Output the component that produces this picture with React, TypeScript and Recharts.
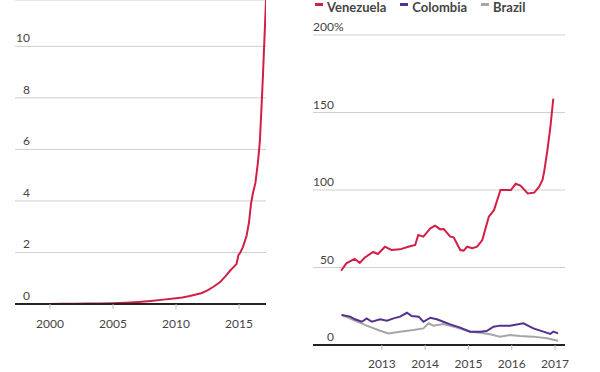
import * as React from "react";
import { CartesianGrid, Line, LineChart, XAxis, YAxis } from "recharts";

// left panel: long-run inflation
const longYears = [
  1999, 2000, 2001, 2002, 2003, 2004, 2005, 2006, 2007, 2008, 2009, 2010, 2010.5, 2011, 2011.5,
  2012, 2012.5, 2013, 2013.5, 2014, 2014.3, 2014.6, 2014.8, 2014.95, 2015.1, 2015.3, 2015.6,
  2015.8, 2015.95, 2016.1, 2016.3, 2016.5, 2016.65, 2016.8, 2016.9, 2017.0, 2017.1, 2017.2,
];
const longValues = [
  0.0, 0.0, 0.005, 0.01, 0.015, 0.02, 0.03, 0.05, 0.08, 0.12, 0.17, 0.22, 0.25, 0.3, 0.36,
  0.42, 0.53, 0.68, 0.85, 1.12, 1.3, 1.45, 1.55, 1.9, 2.0, 2.2, 2.65,
  3.2, 3.9, 4.3, 4.7, 5.5, 6.3, 7.8, 8.9, 10.1, 11.3, 12.5,
];
const longYTicks = [0, 2, 4, 6, 8, 10];
const longXTicks = [2000, 2005, 2010, 2015];

// right panel: recent inflation, three countries
const venezuelaDates = [
  2012.06, 2012.18, 2012.37, 2012.49, 2012.6, 2012.8, 2012.91, 2013.07, 2013.22, 2013.42,
  2013.61, 2013.77, 2013.84, 2013.96, 2014.12, 2014.23, 2014.35, 2014.43, 2014.58, 2014.66,
  2014.81, 2014.89, 2014.97, 2015.09, 2015.2, 2015.32, 2015.47, 2015.59, 2015.74, 2015.98,
  2016.09, 2016.2, 2016.37, 2016.52, 2016.63, 2016.71, 2016.75, 2016.82, 2016.89, 2016.96,
];
const venezuelaValues = [
  47.9, 52.7, 55.5, 53, 56.3, 60, 58.7, 63.4, 61.3, 61.7,
  63.4, 64.5, 71, 69.9, 75.3, 77, 74.6, 74.8, 69.9, 69.5,
  61.3, 60.9, 63.4, 62.4, 63.4, 67.7, 82.8, 87, 100, 100,
  104, 102.8, 97.8, 98.3, 102, 106.5, 112, 125, 140, 159,
];

const colombiaDates = [
  2012.07, 2012.27, 2012.38, 2012.54, 2012.65, 2012.77, 2012.96, 2013.12, 2013.27, 2013.42,
  2013.58, 2013.69, 2013.85, 2013.96, 2014.12, 2014.27, 2014.42, 2014.58, 2014.81, 2015.04,
  2015.27, 2015.42, 2015.58, 2015.73, 2015.96, 2016.27, 2016.5, 2016.73, 2016.89, 2016.96,
  2017.07,
];
const colombiaValues = [
  19.4, 18.3, 16.6, 15, 17.2, 15, 16.6, 15.7, 17.2, 18.3,
  20.8, 18.7, 18.3, 15, 17.6, 16.6, 15, 13.3, 11.2, 8.6,
  8.6, 9, 11.8, 12.5, 12.5, 14, 10.7, 8.6, 7.1, 8.6,
  7.5,
];

const brazilDates = [
  2012.07, 2012.35, 2012.65, 2012.96, 2013.15, 2013.42, 2013.73, 2013.96, 2014.08, 2014.19,
  2014.42, 2014.73, 2015.04, 2015.27, 2015.5, 2015.73, 2015.96, 2016.19, 2016.5, 2016.81,
  2017.07,
];
const brazilValues = [
  19.4, 16.1, 12.5, 9.2, 7.5, 8.6, 9.7, 10.7, 14, 12.5,
  13.5, 11.2, 8.6, 7.9, 6.9, 5.4, 6.5, 5.8, 5.4, 4.3,
  2.8,
];

const recentYTicks = [0, 50, 100, 150, 200];
const recentXTicks = [2013, 2014, 2015, 2016, 2017];

const SERIES = [
  { key: "Venezuela", color: "#d21f45", dates: venezuelaDates, values: venezuelaValues },
  { key: "Colombia", color: "#56308f", dates: colombiaDates, values: colombiaValues },
  { key: "Brazil", color: "#a6a6a6", dates: brazilDates, values: brazilValues },
];

const FONT = "Lato, 'Open Sans', sans-serif";

function toRows(xs: number[], ys: number[]) {
  return xs.map((t, i) => ({ t, v: ys[i] }));
}

function makeYTick(labelX: number, pctTop?: number) {
  return (props: any) => {
    const { y, payload } = props;
    return (
      <g>
        <text x={labelX} y={y - 4} textAnchor="end" fontSize={12} fill="#444" fontFamily={FONT}>
          {payload.value}
        </text>
        {pctTop === payload.value ? (
          <text x={labelX} y={y - 4} textAnchor="start" fontSize={12} fill="#444" fontFamily={FONT}>
            %
          </text>
        ) : null}
      </g>
    );
  };
}

export default function App() {
  const longRows = toRows(longYears, longValues);

  return (
    <div style={{ position: "absolute", left: 0, top: 0, width: 600, height: 372, background: "#fff", overflow: "hidden" }}>
      <div style={{ position: "absolute", left: 0, top: 0 }}>
        <LineChart width={300} height={372} data={longRows} margin={{ top: 0, right: 34, left: 0, bottom: 38 }}>
          <CartesianGrid vertical={false} stroke="#cfcfcf" />
          <XAxis
            dataKey="t"
            type="number"
            domain={[1997.22, 2017.14]}
            ticks={longXTicks}
            allowDataOverflow
            height={30}
            axisLine={{ stroke: "#222", strokeWidth: 2 }}
            tickLine={{ stroke: "#bbb" }}
            tickSize={5}
            tickMargin={10}
            tick={{ fontSize: 12, fill: "#444", fontFamily: FONT }}
          />
          <YAxis
            type="number"
            domain={[0, 11.8]}
            ticks={longYTicks}
            allowDataOverflow
            width={15}
            axisLine={false}
            tickLine={false}
            tick={makeYTick(30)}
          />
          <Line
            dataKey="v"
            type="linear"
            stroke="#d21f45"
            strokeWidth={2}
            dot={false}
            isAnimationActive={false}
          />
        </LineChart>
      </div>

      <div style={{ position: "absolute", left: 300, top: 0 }}>
        <LineChart width={300} height={372} margin={{ top: 35, right: 35, left: 0, bottom: 0 }}>
          <CartesianGrid vertical={false} stroke="#cfcfcf" />
          <XAxis
            dataKey="t"
            type="number"
            domain={[2011.41, 2017.23]}
            ticks={recentXTicks}
            allowDataOverflow
            height={27}
            axisLine={{ stroke: "#222", strokeWidth: 2 }}
            tickLine={{ stroke: "#bbb" }}
            tickSize={5}
            tickMargin={9}
            tick={{ fontSize: 12, fill: "#444", fontFamily: FONT }}
          />
          <YAxis
            type="number"
            domain={[0, 200]}
            ticks={recentYTicks}
            width={13}
            axisLine={false}
            tickLine={false}
            tick={makeYTick(34, 200)}
          />
          {SERIES.slice()
            .reverse()
            .map((s) => (
              <Line
                key={s.key}
                data={toRows(s.dates, s.values)}
                dataKey="v"
                name={s.key}
                type="linear"
                stroke={s.color}
                strokeWidth={2}
                dot={false}
                isAnimationActive={false}
              />
            ))}
        </LineChart>
        <div
          style={{
            position: "absolute",
            left: 15,
            top: -1,
            display: "flex",
            gap: 14,
            fontFamily: FONT,
            fontSize: 13,
            fontWeight: 700,
            color: "#444",
            lineHeight: "16px",
          }}
        >
          {SERIES.map((s) => (
            <div key={s.key} style={{ display: "flex", alignItems: "flex-start", gap: 4 }}>
              <span style={{ display: "inline-block", width: 8, height: 3, marginTop: 4, background: s.color }} />
              <span>{s.key}</span>
            </div>
          ))}
        </div>
      </div>
    </div>
  );
}
